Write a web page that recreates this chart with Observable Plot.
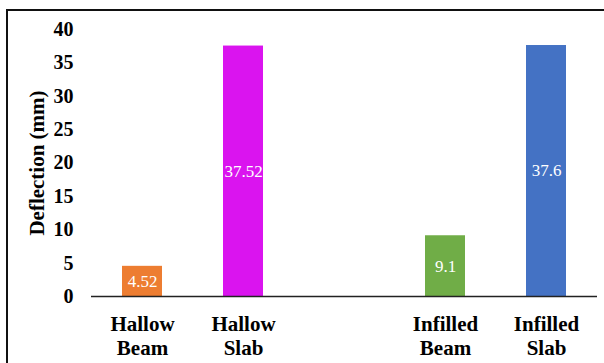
<!DOCTYPE html>
<html>
<head>
<meta charset="utf-8">
<script src="https://cdn.jsdelivr.net/npm/d3@7"></script>
<script src="https://cdn.jsdelivr.net/npm/@observablehq/plot@0.6"></script>
<style>
  html, body { margin: 0; padding: 0; background: #fff; overflow: hidden; }
  #frame { position: absolute; left: 6px; top: 9px; width: 620px; height: 380px;
           border-left: 2px solid #111; border-top: 2px solid #111; pointer-events: none; }
  svg text { font-family: "Liberation Serif", serif; }
</style>
</head>
<body>
<div id="chart"></div>
<div id="frame"></div>
<script>
// Mid-span deflection of each specimen
const categories = ["Hallow Beam", "Hallow Slab", "Infilled Beam", "Infilled Slab"];
const deflections = [4.52, 37.52, 9.1, 37.6];
const barColors = ["#ED7D31", "#DA14EF", "#70AD47", "#4472C4"];
const yTicks = [0, 5, 10, 15, 20, 25, 30, 35, 40];

const rows = categories.map((c, i) => ({name: c, value: deflections[i], color: barColors[i]}));
// an empty slot separates the hallow and infilled groups
const xDomain = [categories[0], categories[1], "gap", categories[2], categories[3]];

const serif = "'Liberation Serif', serif";

const chart = Plot.plot({
  width: 604,
  height: 363,
  marginLeft: 91,
  marginRight: 7,
  marginTop: 29,
  marginBottom: 67,
  style: {fontFamily: serif},
  x: {domain: xDomain, paddingInner: 0.6, paddingOuter: 0.3},
  y: {domain: [0, 40]},
  marks: [
    Plot.barY(rows, {x: "name", y: "value", fill: "color"}),
    Plot.ruleY([0], {stroke: "#222", strokeWidth: 1.5}),
    Plot.text(rows, {
      x: "name", y: d => d.value / 2, text: d => String(d.value),
      fill: "white", fontSize: 17, fontFamily: serif
    }),
    Plot.axisY({
      ticks: yTicks, tickSize: 0, tickPadding: 18, label: null,
      fontSize: 20, fontWeight: "bold", fill: "#000"
    }),
    Plot.axisX({
      tickSize: 0, tickPadding: 17, label: null,
      tickFormat: d => d === "gap" ? "" : d.replace(" ", "\n"),
      fontSize: 21, fontWeight: "bold", fill: "#000", lineHeight: 1.15
    }),
    Plot.text(["Deflection (mm)"], {
      frameAnchor: "left", textAnchor: "middle", rotate: -90, dx: -54,
      fontSize: 21, fontWeight: "bold", fill: "#000", fontFamily: serif
    })
  ]
});

document.getElementById("chart").append(chart);
</script>
</body>
</html>
